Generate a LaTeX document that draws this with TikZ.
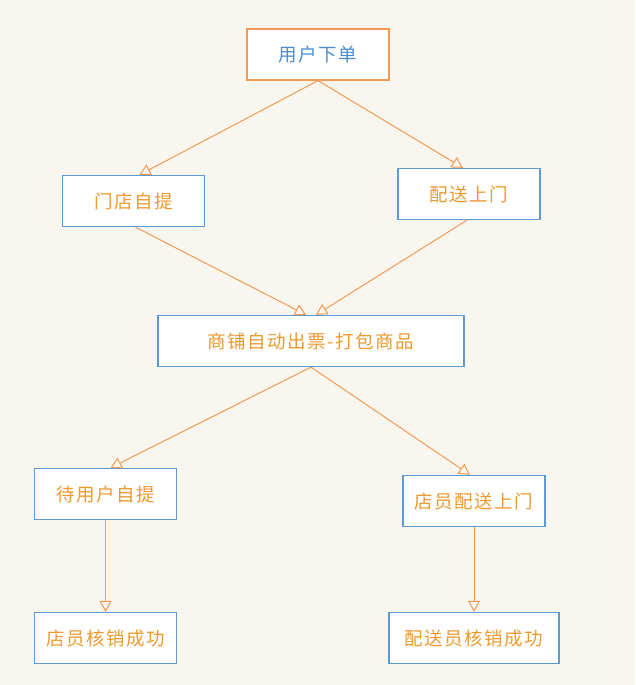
\documentclass[tikz,border=0pt]{standalone}
\usepackage{fontspec}
\usepackage{xcolor}
\usepackage{tikz}
\usetikzlibrary{arrows.meta}
\newfontfamily\cjk{Noto Sans CJK SC}[LetterSpace=8]

\definecolor{bgcream}{HTML}{F9F6F0}
\definecolor{boxblue}{HTML}{5B9BD5}
\definecolor{textblue}{HTML}{4A8ED2}
\definecolor{lineorange}{HTML}{F39A52}
\definecolor{textorange}{HTML}{EE9A30}

\begin{document}
\begin{tikzpicture}[x=1pt, y=-1pt,
  flowbox/.style={draw=boxblue, line width=1.3pt, fill=white, rectangle,
    minimum width=142pt, minimum height=51pt, text=textorange,
    font=\cjk\fontsize{18.5}{22}\selectfont, inner sep=0pt},
  flowline/.style={draw=lineorange, line width=1pt,
    -{Triangle[open, length=11pt, width=12pt]}}]
\fill[bgcream] (0,0) rectangle (635,685);
\useasboundingbox (0,0) rectangle (635,685);

\node[flowbox, draw=lineorange, text=textblue] (order) at (318,54.5) {用户下单};

\node[flowbox] (pickup) at (133.5,201) {门店自提};
\node[flowbox] (deliver) at (469,194) {配送上门};

\node[flowbox, minimum width=306pt] (print) at (311,341) {商铺自动出票-打包商品};

\node[flowbox] (wait) at (105.5,494) {待用户自提};
\node[flowbox] (staff) at (474,501) {店员配送上门};

\node[flowbox] (verify) at (105.5,638) {店员核销成功};
\node[flowbox, minimum width=170pt] (courier) at (474,638) {配送员核销成功};

% order branches
\draw[flowline] (order.south) -- ([xshift=6pt]pickup.north);
\draw[flowline] (order.south) -- ([xshift=-6pt]deliver.north);

% merge into printing
\draw[flowline] ([xshift=2pt]pickup.south) -- ([xshift=-5pt]print.north);
\draw[flowline] ([xshift=-2pt]deliver.south) -- ([xshift=5pt]print.north);

% split after printing
\draw[flowline] (print.south) -- ([xshift=5pt]wait.north);
\draw[flowline] (print.south) -- ([xshift=-4pt]staff.north);

% final steps
\draw[flowline] (wait.south) -- (verify.north);
\draw[flowline] (staff.south) -- (courier.north);
\end{tikzpicture}
\end{document}
